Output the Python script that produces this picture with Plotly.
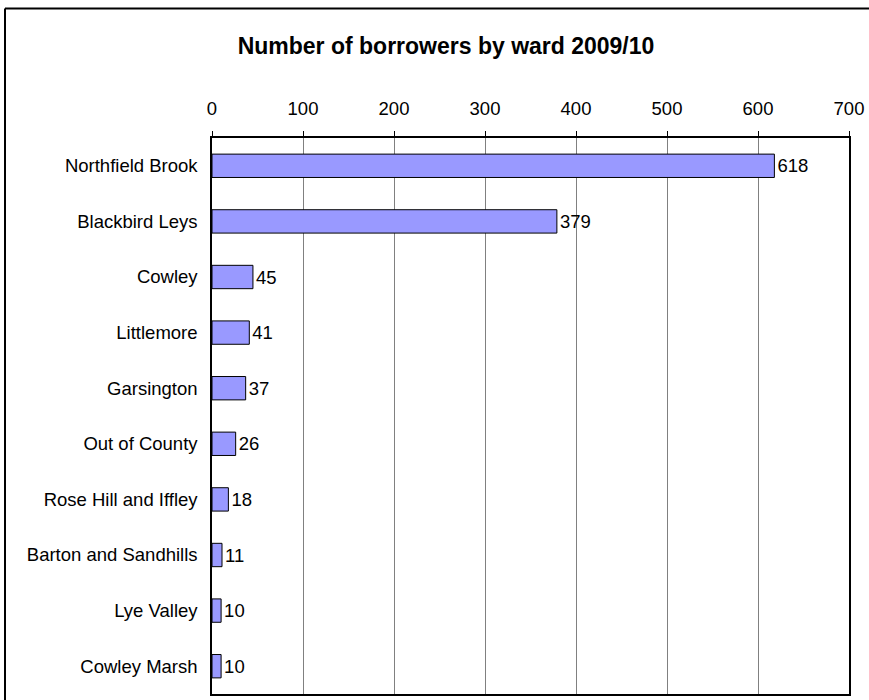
import plotly.graph_objects as go

wards = ["Northfield Brook", "Blackbird Leys", "Cowley", "Littlemore", "Garsington",
         "Out of County", "Rose Hill and Iffley", "Barton and Sandhills", "Lye Valley", "Cowley Marsh"]
borrowers = [618, 379, 45, 41, 37, 26, 18, 11, 10, 10]
x_ticks = [0, 100, 200, 300, 400, 500, 600, 700]

W, H = 869, 700
L, R, T, B = 212, 20, 138, 4

FONT = "Liberation Sans, Arial"

fig = go.Figure(go.Bar(
    x=borrowers, y=wards, orientation="h",
    marker=dict(color="#9999FF", line=dict(color="black", width=1)),
    text=borrowers, textposition="outside", cliponaxis=False,
    textfont=dict(family=FONT, size=18.5, color="black"),
    width=0.42,
))

pw = W - L - R
ph = H - T - B
def px(x): return (x - L) / pw
def py(y): return (H - B - y) / ph

fig.update_layout(
    width=W, height=H,
    margin=dict(l=L, r=R, t=T, b=B),
    paper_bgcolor="white", plot_bgcolor="white",
    font=dict(family=FONT, size=18.5, color="black"),
    showlegend=False,
    title=dict(text="<b>Number of borrowers by ward 2009/10</b>",
               font=dict(size=23, family=FONT, color="black"),
               xref="container", yref="container", x=446 / W, y=1 - 46 / H,
               xanchor="center", yanchor="middle"),
    xaxis=dict(side="top", range=[0, 700], tickvals=x_ticks, ticktext=[str(v) for v in x_ticks],
               showgrid=True, gridcolor="#808080", gridwidth=1,
               showline=True, linecolor="black", linewidth=1.5, mirror=True,
               ticks="outside", ticklen=5, tickcolor="black", ticklabelstandoff=9,
               zeroline=False, tickfont=dict(size=18.5)),
    yaxis=dict(autorange="reversed", showgrid=False,
               showline=True, linecolor="black", linewidth=1.5, mirror=True,
               ticks="", ticklabelstandoff=9, tickfont=dict(size=18.5)),
    shapes=[
        dict(type="line", xref="paper", yref="paper", x0=px(5), x1=px(900), y0=py(8), y1=py(8),
             line=dict(color="black", width=2)),
        dict(type="line", xref="paper", yref="paper", x0=px(5), x1=px(5), y0=py(8), y1=py(720),
             line=dict(color="black", width=2)),
    ],
)

fig.write_html(
    "out.html",
    config={"displayModeBar": False},
    post_script="document.body.style.margin='0';document.body.style.overflow='hidden';"
                "document.documentElement.style.overflow='hidden';",
)
